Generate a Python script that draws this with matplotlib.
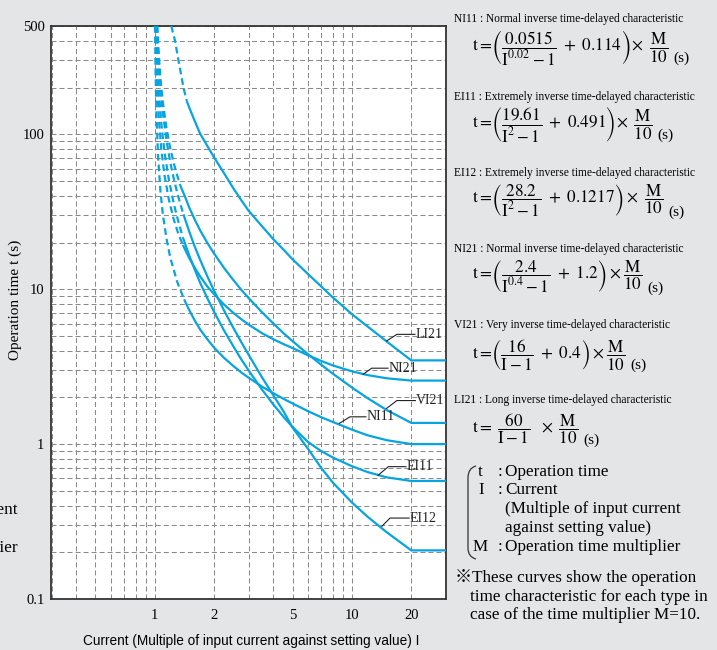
import matplotlib
matplotlib.use("Agg")
import matplotlib.pyplot as plt
from matplotlib.ticker import NullFormatter
from matplotlib.path import Path
from matplotlib.patches import PathPatch

plt.rcParams['mathtext.fontset'] = 'stix'

# Current I (multiple of setting) and operation time t (s)
# dashed part near I=1, then solid part, flat beyond I=20
li21_dash_i = [1.215, 1.24, 1.27, 1.32, 1.36, 1.40, 1.455]
li21_dash_t = [500, 450, 400, 300, 245, 200, 164]
li21_i = [1.455, 1.5, 1.6, 1.7, 1.85, 2, 2.25, 2.5, 2.75, 3, 3.5, 4, 4.5, 5, 6, 7, 8, 10, 12, 15, 20, 30]
li21_t = [164, 148, 121, 101, 84, 71, 56, 45, 37.5, 32, 25.5, 21, 18, 15.6, 12.5, 10.4, 8.85, 6.9, 5.75, 4.6, 3.47, 3.47]

vi21_dash_i = [1.032, 1.045, 1.06, 1.08, 1.10, 1.15, 1.2, 1.25, 1.3, 1.346]
vi21_dash_t = [500, 360, 270, 202, 162, 108, 81, 65, 54.5, 47]
vi21_i = [1.346, 1.42, 1.5, 1.6, 1.7, 1.85, 2, 2.25, 2.5, 2.75, 3, 3.5, 4, 4.5, 5, 6, 7, 8, 10, 12, 15, 20, 30]
vi21_t = [47, 40, 33.5, 28, 24, 19.9, 17, 13.7, 11.5, 9.9, 8.75, 7.1, 6.0, 5.2, 4.62, 3.8, 3.25, 2.85, 2.32, 1.98, 1.66, 1.37, 1.37]

ei12_dash_i = [1.028, 1.04, 1.06, 1.08, 1.1, 1.15, 1.2, 1.25, 1.3, 1.35, 1.4]
ei12_dash_t = [500, 356, 235, 175, 138, 90, 66, 51.8, 42.2, 35.4, 30.4]
ei12_i = [1.4, 1.5, 1.6, 1.7, 1.85, 2, 2.25, 2.5, 2.75, 3, 3.5, 4, 4.5, 5, 6, 7, 8, 10, 12, 15, 20, 30]
ei12_t = [30.4, 23.4, 18.7, 15.5, 12.1, 9.8, 7.27, 5.66, 4.55, 3.76, 2.7, 2.06, 1.63, 1.28, 0.93, 0.70, 0.565, 0.42, 0.34, 0.27, 0.206, 0.206]

ei11_dash_i = [1.0194, 1.03, 1.05, 1.08, 1.12, 1.18, 1.25, 1.32, 1.39]
ei11_dash_t = [500, 325, 193, 119, 78, 51, 35.7, 27.2, 21.6]
ei11_i = [1.39, 1.5, 1.6, 1.7, 1.85, 2, 2.25, 2.5, 2.75, 3, 3.5, 4, 4.5, 5, 6, 7, 8, 10, 12, 15, 20, 30]
ei11_t = [21.6, 16.4, 13.3, 11.0, 8.75, 7.15, 5.4, 4.3, 3.52, 2.98, 2.25, 1.8, 1.5, 1.29, 1.03, 0.9, 0.82, 0.72, 0.66, 0.61, 0.578, 0.578]

ni21_dash_i = [1.012, 1.02, 1.03, 1.05, 1.08, 1.12, 1.18, 1.25, 1.32, 1.39]
ni21_dash_t = [500, 310, 208, 127, 81, 55, 38, 28.2, 22.7, 19.3]
ni21_i = [1.39, 1.5, 1.6, 1.7, 1.85, 2, 2.25, 2.5, 2.75, 3, 3.5, 4, 4.5, 5, 6, 7, 8, 10, 12, 15, 20, 30]
ni21_t = [19.3, 15.8, 13.7, 12.1, 10.4, 9.3, 7.95, 7.05, 6.4, 5.9, 5.2, 4.75, 4.42, 4.17, 3.74, 3.44, 3.22, 2.95, 2.79, 2.66, 2.57, 2.57]

ni11_dash_i = [1.005, 1.01, 1.02, 1.04, 1.07, 1.1, 1.15, 1.2, 1.3, 1.41]
ni11_dash_t = [500, 275, 142, 73, 43, 30.5, 21, 16, 11.2, 8.6]
ni11_i = [1.41, 1.5, 1.6, 1.7, 1.85, 2, 2.25, 2.5, 2.75, 3, 3.5, 4, 4.5, 5, 6, 7, 8, 10, 12, 15, 20, 30]
ni11_t = [8.6, 7.3, 6.25, 5.5, 4.75, 4.2, 3.6, 3.2, 2.9, 2.68, 2.35, 2.13, 1.96, 1.83, 1.63, 1.49, 1.39, 1.24, 1.14, 1.06, 1.0, 1.0]

# curve labels: (name, tip I, tip t, elbow I, elbow t, text I)
labels = [
    ("LI21", 15.0, 4.63, 16.9, 5.11, 21.1),
    ("NI21", 11.4, 2.82, 12.6, 3.09, 15.4),
    ("VI21", 15.0, 1.70, 16.9, 1.91, 21.2),
    ("NI11", 8.63, 1.36, 9.78, 1.50, 11.9),
    ("EI11", 13.6, 0.63, 15.3, 0.715, 19.0),
    ("EI12", 14.2, 0.295, 15.6, 0.333, 19.7),
]

x_ticks = [1, 2, 5, 10, 20]
y_ticks = [0.1, 1, 10, 100, 500]

blue = '#06a4e0'
bg = '#e4e5e7'
W, H = 717, 650


def fx(x):
    return x / W


def fy(y):
    return 1 - y / H


fig = plt.figure(figsize=(W / 100, H / 100), dpi=100, facecolor=bg)
ax = fig.add_axes([fx(51.5), 51 / H, 394.5 / W, 573 / H])
ax.set_facecolor('white')

curves = [
    (li21_dash_i, li21_dash_t, li21_i, li21_t),
    (vi21_dash_i, vi21_dash_t, vi21_i, vi21_t),
    (ei12_dash_i, ei12_dash_t, ei12_i, ei12_t),
    (ei11_dash_i, ei11_dash_t, ei11_i, ei11_t),
    (ni21_dash_i, ni21_dash_t, ni21_i, ni21_t),
    (ni11_dash_i, ni11_dash_t, ni11_i, ni11_t),
]
for di, dt, si, st in curves:
    ax.plot(di, dt, color=blue, lw=1.6, ls=(0, (3, 1.8)), zorder=3)
    ax.plot(si, st, color=blue, lw=1.6, zorder=3, solid_capstyle='butt')

ax.set_xscale('log')
ax.set_yscale('log')
ax.set_xlim(0.3, 30)
ax.set_ylim(0.1, 500)
ax.grid(True, which='both', ls=(0, (4.8, 2.9)), lw=0.75, color='#8a8a8a')
ax.set_xticks(x_ticks)
ax.set_xticklabels([str(v) for v in x_ticks])
ax.set_yticks(y_ticks)
ax.set_yticklabels(['0.1', '1', '10', '100', '500'])
ax.xaxis.set_minor_formatter(NullFormatter())
ax.yaxis.set_minor_formatter(NullFormatter())
ax.tick_params(which='both', length=0, labelsize=10.5)
ax.tick_params(axis='x', pad=7)
ax.tick_params(axis='y', pad=5)
for lab in ax.get_xticklabels() + ax.get_yticklabels():
    lab.set_family('Liberation Serif')
for sp in ax.spines.values():
    sp.set_color('#333333')
    sp.set_linewidth(1.3)

for name, ti, tt, ei, et, xi in labels:
    ax.plot([ti, ei, xi * 0.99], [tt, et, et], color='#222222', lw=0.8, zorder=4)
    ax.text(xi, et, name, family='Liberation Serif', fontsize=10, va='center', ha='left',
            color='#222222', zorder=5)

ax.set_ylabel('Operation time t (s)', family='Liberation Serif', fontsize=11)
ax.yaxis.set_label_coords((22 - 51.5) / 394.5, (599 - 300) / 573)
fig.text(fx(251), fy(641), 'Current (Multiple of input current against setting value) I',
         family='Liberation Sans', fontsize=9.8, ha='center', va='center')

# cut-off words from the neighbouring column
fig.text(fx(18), fy(510), 'Current', family='Liberation Serif', fontsize=12.3, ha='right', va='center')
fig.text(fx(18), fy(548), 'multiplier', family='Liberation Serif', fontsize=12.3, ha='right', va='center')

# formulas on the right
titles = [
    "NI11 : Normal inverse time-delayed characteristic",
    "EI11 : Extremely inverse time-delayed characteristic",
    "EI12 : Extremely inverse time-delayed characteristic",
    "NI21 : Normal inverse time-delayed characteristic",
    "VI21 : Very inverse time-delayed characteristic",
    "LI21 : Long inverse time-delayed characteristic",
]
title_y = [19, 97, 173, 249, 325, 400]
formulas = [
    r"$\mathrm{t}=\!\left(\dfrac{0.0515}{\mathrm{I}^{0.02}-1}\ +\ 0.114\right)\!\times\ \dfrac{\mathrm{M}}{10}$",
    r"$\mathrm{t}=\!\left(\dfrac{19.61}{\mathrm{I}^{2}-1}\ +\ 0.491\right)\!\times\ \dfrac{\mathrm{M}}{10}$",
    r"$\mathrm{t}=\!\left(\dfrac{28.2}{\mathrm{I}^{2}-1}\ +\ 0.1217\right)\times\ \dfrac{\mathrm{M}}{10}$",
    r"$\mathrm{t}=\!\left(\dfrac{2.4}{\mathrm{I}^{0.4}-1}\ +\ 1.2\right)\times\dfrac{\mathrm{M}}{10}$",
    r"$\mathrm{t}=\!\left(\dfrac{16}{\mathrm{I}-1}\ +\ 0.4\right)\times\dfrac{\mathrm{M}}{10}$",
    r"$\mathrm{t}=\ \dfrac{60}{\mathrm{I}-1}\ \ \times\ \dfrac{\mathrm{M}}{10}$",
]
formula_y = [47, 124, 201, 277, 354, 429]

for t, y in zip(titles, title_y):
    fig.text(fx(454), fy(y), t, family='Liberation Serif', fontsize=8.3, va='center', ha='left')
ftexts = []
for f, y in zip(formulas, formula_y):
    ftexts.append(fig.text(fx(472), fy(y), f, fontsize=12.3, va='center', ha='left'))

# "(s)" sits just after each formula, a little lower
fig.canvas.draw()
rend = fig.canvas.get_renderer()
for ft, y in zip(ftexts, formula_y):
    bb = ft.get_window_extent(rend)
    fig.text((bb.x1 + 5) / W, fy(y + 11), '(s)', family='Liberation Serif', fontsize=11,
             va='center', ha='left')

legend_lines = [
    (478, 472, 't'), (498, 472, ':'), (505, 472, 'Operation time'),
    (478, 490, 'I'), (498, 490, ':'), (505, 490, 'Current'),
    (505, 509, '(Multiple of input current'),
    (505, 528, 'against setting value)'),
    (473, 547, 'M'), (498, 547, ':'), (505, 547, 'Operation time multiplier'),
    (455, 578, '\u203bThese curves show the operation'),
    (470, 597, 'time characteristic for each type in'),
    (470, 615, 'case of the time multiplier M=10.'),
]
for x, y, s in legend_lines:
    fig.text(fx(x), fy(y), s, family=['Liberation Serif', 'Noto Sans CJK JP'], fontsize=12.3,
             va='center', ha='left')

brace = Path([(fx(476), fy(466)), (fx(468), fy(468)), (fx(468), fy(478)),
              (fx(468), fy(548)), (fx(468), fy(557)), (fx(476), fy(559))],
             [Path.MOVETO, Path.CURVE3, Path.CURVE3, Path.LINETO, Path.CURVE3, Path.CURVE3])
fig.patches.append(PathPatch(brace, fill=False, lw=0.9, color='#333333', transform=fig.transFigure))

fig.savefig('out.png', dpi=100, facecolor=bg)
